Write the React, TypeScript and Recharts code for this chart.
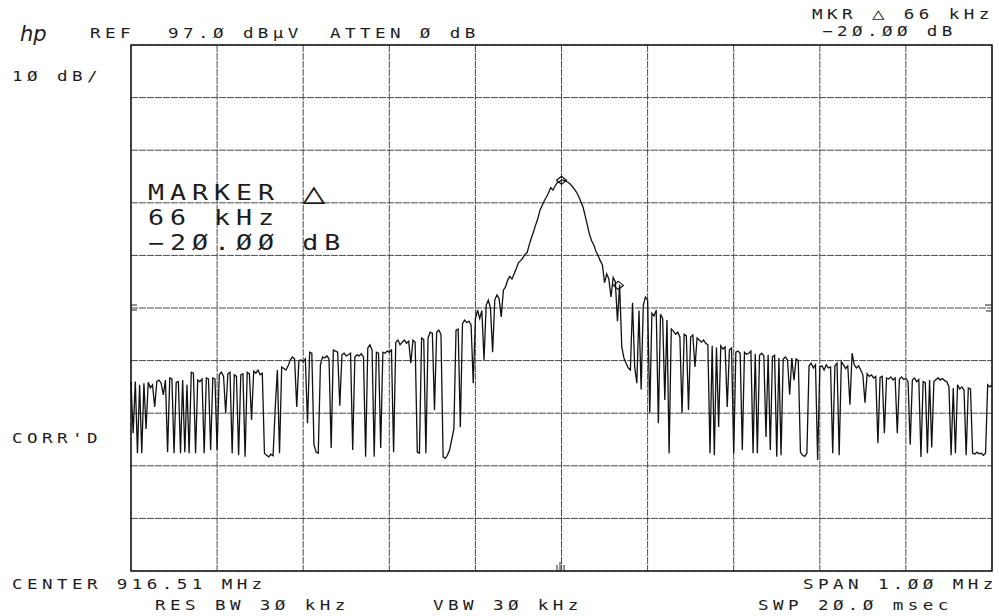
import React from "react";
import { LineChart, Line, XAxis, YAxis, CartesianGrid, ReferenceDot } from "recharts";

// Sweep: 401 points from -500 kHz to +500 kHz around 916.51 MHz
const START_KHZ = -500;
const STEP_KHZ = 2.5;

// Trace amplitude, dBµV
const traceDbuv: number[] = [
  33.0, 23.2, 33.0, 19.4, 32.4, 19.4, 32.7, 24.0, 32.9, 31.8,
  32.4, 28.2, 33.0, 33.3, 32.7, 30.5, 33.3, 19.6, 33.7, 33.5,
  19.4, 32.9, 33.0, 19.4, 33.3, 19.6, 32.4, 19.4, 34.8, 34.6,
  19.4, 33.3, 33.0, 33.5, 19.4, 33.7, 33.5, 20.0, 33.7, 33.5,
  20.0, 34.3, 34.8, 34.0, 27.0, 34.5, 34.8, 19.4, 34.3, 34.0,
  19.0, 34.3, 34.5, 18.7, 34.8, 34.5, 25.7, 35.0, 34.6, 35.2,
  34.3, 34.6, 19.4, 19.0, 18.7, 19.2, 18.9, 28.0, 35.2, 19.4,
  35.8, 35.5, 35.2, 36.0, 37.1, 37.7, 37.3, 28.2, 37.0, 37.1,
  36.8, 37.3, 25.1, 38.6, 38.4, 21.0, 19.6, 19.4, 36.2, 37.7,
  37.5, 37.9, 37.3, 20.4, 39.0, 38.8, 38.6, 28.4, 38.1, 38.4,
  37.9, 38.1, 38.4, 20.0, 37.7, 38.1, 37.9, 38.3, 37.7, 18.7,
  39.4, 40.0, 39.0, 18.7, 38.6, 38.4, 20.4, 38.6, 38.4, 38.8,
  38.6, 39.0, 19.6, 40.5, 40.9, 40.0, 40.5, 40.9, 40.3, 40.7,
  36.5, 40.9, 40.5, 19.6, 19.4, 41.3, 41.0, 19.4, 41.3, 42.4,
  42.2, 27.6, 42.4, 42.8, 42.0, 18.7, 18.4, 19.0, 20.0, 22.0,
  24.0, 42.8, 43.0, 24.4, 44.0, 44.7, 44.2, 44.5, 43.8, 32.7,
  44.9, 46.6, 45.0, 46.5, 37.1, 47.5, 48.5, 47.0, 38.6, 48.5,
  49.5, 48.8, 45.3, 50.4, 51.0, 52.3, 53.0, 52.5, 53.5, 54.5,
  55.6, 56.0, 56.5, 57.2, 57.5, 59.0, 60.3, 61.5, 62.8, 64.0,
  65.6, 66.5, 67.4, 68.1, 68.9, 69.9, 69.4, 70.2, 70.8, 71.0,
  71.3, 71.3, 71.1, 70.9, 70.6, 70.1, 69.6, 69.0, 68.2, 67.2,
  66.2, 64.5, 62.8, 61.0, 59.8, 59.0, 57.8, 57.0, 56.0, 55.2,
  51.8, 53.5, 52.5, 49.1, 52.8, 52.0, 44.5, 51.4, 39.6, 37.5,
  36.5, 35.6, 35.2, 48.0, 35.8, 32.7, 46.5, 31.5, 47.5, 49.1,
  48.5, 27.0, 46.0, 45.5, 46.6, 25.1, 45.8, 45.0, 29.5, 44.7,
  19.4, 43.0, 42.6, 42.0, 42.4, 41.5, 27.0, 42.0, 41.7, 27.6,
  41.5, 41.9, 35.8, 41.3, 40.9, 40.5, 40.9, 40.3, 40.0, 19.4,
  39.8, 19.0, 39.5, 24.4, 39.8, 39.2, 39.6, 28.2, 39.0, 39.4,
  19.4, 38.6, 38.8, 38.4, 20.0, 38.6, 38.2, 38.4, 38.8, 19.4,
  38.3, 19.4, 38.0, 38.4, 37.9, 22.5, 38.1, 20.0, 37.7, 38.0,
  18.7, 37.5, 19.0, 37.3, 37.7, 37.1, 30.5, 37.5, 33.3, 37.3,
  37.0, 19.6, 19.0, 18.8, 19.4, 36.0, 36.5, 35.6, 36.2, 18.1,
  35.8, 36.0, 35.2, 36.2, 35.6, 35.8, 19.4, 36.0, 36.5, 19.0,
  36.8, 36.2, 35.5, 36.0, 28.6, 38.4, 36.2, 35.6, 36.0, 35.2,
  34.3, 29.0, 34.5, 34.0, 34.3, 33.7, 34.0, 21.3, 33.8, 34.0,
  23.2, 33.7, 33.5, 33.9, 33.3, 33.7, 23.2, 33.5, 33.9, 33.4,
  33.6, 33.0, 21.0, 33.3, 33.7, 33.0, 33.4, 18.7, 33.0, 32.8,
  19.4, 33.3, 20.5, 33.0, 33.4, 33.7, 33.3, 33.6, 33.2, 33.0,
  32.0, 19.0, 31.8, 19.4, 32.4, 31.6, 32.0, 31.4, 19.0, 31.8,
  31.6, 19.4, 19.2, 19.6, 19.3, 19.4, 19.0, 19.4, 32.4, 32.0,
  32.4,
];

const xTicksKhz = [-500, -400, -300, -200, -100, 0, 100, 200, 300, 400, 500];
const yTicksDbuv = [-3, 7, 17, 27, 37, 47, 57, 67, 77, 87, 97];
const markerPeak = { f: 0, v: 71.3 };
const markerDelta = { f: 66, v: 51.3 };

const data = traceDbuv.map((v, i) => ({ f: START_KHZ + i * STEP_KHZ, v }));

const FONT = "DejaVu Sans Mono";
const INK = "#1c1c1c";

// Plotter-style text: stretched monospaced glyphs
const T = ({ x, y, children, size = 13.5, ls = 3.4, sx = 1.3 }: any) => (
  <text
    transform={`translate(${x},${y}) scale(${sx},1)`}
    fontFamily={FONT}
    fontSize={size}
    letterSpacing={ls}
    fill={INK}
  >
    {children}
  </text>
);

const diamond = (p: any) => (
  <path
    d={`M${p.cx},${p.cy - 4}L${p.cx + 5},${p.cy}L${p.cx},${p.cy + 4}L${p.cx - 5},${p.cy}Z`}
    fill="none"
    stroke="#111"
    strokeWidth={1.2}
  />
);

export default function App() {
  return (
    <div style={{ position: "absolute", left: 0, top: 0, width: 999, height: 616, background: "#fff" }}>
      <div style={{ position: "absolute", left: 0, top: 0 }}>
        <LineChart width={999} height={616} data={data} margin={{ top: 45, right: 7, bottom: 45, left: 131 }}>
          <CartesianGrid stroke="#4a4a4a" strokeDasharray="7 1" strokeWidth={1} />
          <XAxis dataKey="f" type="number" domain={[-500, 500]} ticks={xTicksKhz} hide />
          <YAxis type="number" domain={[-3, 97]} ticks={yTicksDbuv} hide />
          <Line
            dataKey="v"
            type="linear"
            stroke="#111"
            strokeWidth={1.3}
            dot={false}
            isAnimationActive={false}
          />
          <ReferenceDot x={markerPeak.f} y={markerPeak.v} r={4} shape={diamond} />
          <ReferenceDot x={markerDelta.f} y={markerDelta.v} r={4} shape={diamond} />
        </LineChart>
      </div>
      <svg
        width={999}
        height={616}
        style={{ position: "absolute", left: 0, top: 0, pointerEvents: "none" }}
      >
        <rect x={131} y={45} width={861} height={526} fill="none" stroke="#111" strokeWidth={1.4} />
        <g stroke="#222" strokeWidth={1}>
          <line x1={131} y1={305} x2={137} y2={305} />
          <line x1={131} y1={310} x2={137} y2={310} />
          <line x1={985} y1={305} x2={992} y2={305} />
          <line x1={986} y1={311} x2={992} y2={311} />
          <line x1={557} y1={565} x2={557} y2={571} />
          <line x1={560} y1={562} x2={560} y2={571} />
          <line x1={564} y1={565} x2={564} y2={571} />
        </g>
        <text x={20} y={41} fontFamily="DejaVu Sans" fontStyle="italic" fontWeight={200} fontSize={21} fill={INK}>
          hp
        </text>
        <T x={90} y={38}>REF</T>
        <T x={168} y={38}>97.Ø dBµV</T>
        <T x={330} y={38}>ATTEN Ø dB</T>
        <T x={812} y={19}>MKR <tspan fontSize={16}>△</tspan> 66 kHz</T>
        <T x={822} y={36}>−2Ø.ØØ dB</T>
        <T x={12} y={81}>1Ø dB/</T>
        <T x={12} y={443}>CORR'D</T>
        <T x={12} y={589}>CENTER 916.51 MHz</T>
        <T x={155} y={610}>RES BW 3Ø kHz</T>
        <T x={433} y={610}>VBW 3Ø kHz</T>
        <T x={803} y={589}>SPAN 1.ØØ MHz</T>
        <T x={758} y={610}>SWP 2Ø.Ø msec</T>
        <T x={148} y={200} size={20.5} ls={4.6} sx={1.3}>
          MARKER <tspan fontSize={29.7} dy={2.5}>△</tspan>
        </T>
        <T x={148} y={225} size={20.5} ls={4.6} sx={1.3}>66 kHz</T>
        <T x={148} y={250} size={20.5} ls={4.6} sx={1.3}>−2Ø.ØØ dB</T>
      </svg>
    </div>
  );
}
